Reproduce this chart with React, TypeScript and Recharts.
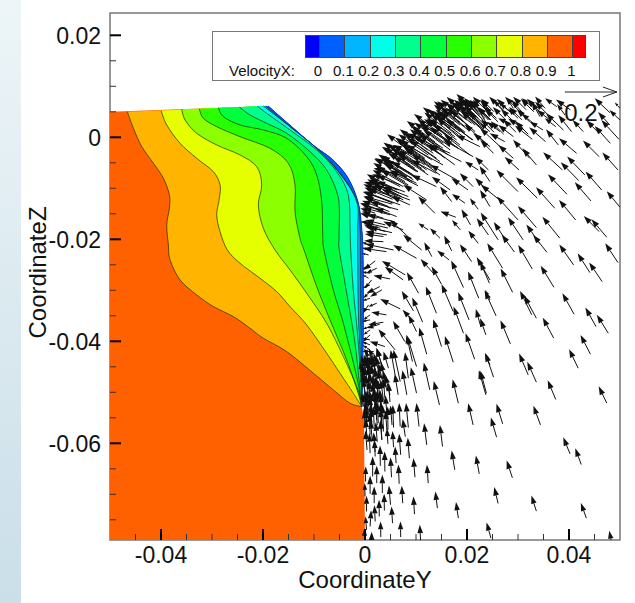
import React from 'react';
import { ScatterChart, Scatter, XAxis, YAxis, ReferenceArea } from 'recharts';

type Pair = [number, number];
type Vec = [number, number, number, number]; // y, z, velocityY, velocityZ

const yDomain: Pair = [-0.05, 0.05];
const zDomain: Pair = [-0.07896, 0.02437];
const yTicks = [-0.045, -0.04, -0.035, -0.03, -0.025, -0.02, -0.015, -0.01, -0.005, 0, 0.005, 0.01, 0.015, 0.02, 0.025, 0.03, 0.035, 0.04, 0.045];
const zTicks = [0.02, 0.015, 0.01, 0.005, 0, -0.005, -0.01, -0.015, -0.02, -0.025, -0.03, -0.035, -0.04, -0.045, -0.05, -0.055, -0.06, -0.065, -0.07, -0.075];
const yMajor = [-0.04, -0.02, 0, 0.02, 0.04];
const zMajor = [0.02, 0, -0.02, -0.04, -0.06];

const legendLevels = ['0', '0.1', '0.2', '0.3', '0.4', '0.5', '0.6', '0.7', '0.8', '0.9', '1'];
const legendColors = ['#0000ff', '#0060ff', '#00b4ff', '#00ffe6', '#00ff8c', '#00ff3c', '#28ff00', '#8cff00', '#e6ff00', '#ffb400', '#ff6000', '#ff0000'];

// the solid boundary, from the top of the slope to the tip of the wedge
const wallEdge: Pair[] = [[-0.019, 0.00613], [-0.01437, 0.00208], [-0.01019, -0.00151], [-0.00627, -0.00445], [-0.00333, -0.00798], [-0.00137, -0.01268], [-0.00065, -0.01778], [-0.00039, -0.02307], [-0.00033, -0.03189], [-0.00039, -0.04169], [-0.00059, -0.05149], [-0.00065, -0.0528]];
const lowerEdge: Pair[] = [[-0.0002, -0.05541], [0, -0.07896], [-0.05, -0.07896]];
const topLeft: Pair = [-0.05, 0.00502];

const contour09: Pair[] = [[-0.04659, 0.00502], [-0.04541, 0.00176], [-0.04377, -0.00184], [-0.04149, -0.0051], [-0.03953, -0.00804], [-0.03836, -0.01131], [-0.03836, -0.01392], [-0.03887, -0.01719], [-0.03855, -0.02111], [-0.03822, -0.02405], [-0.03626, -0.02797], [-0.03299, -0.03091], [-0.02973, -0.0332], [-0.02581, -0.03516], [-0.02254, -0.03744], [-0.01993, -0.0394], [-0.01535, -0.04202], [-0.01013, -0.04626], [-0.00621, -0.04953], [-0.00294, -0.05214], [-0.00065, -0.0528]];
const contour08: Pair[] = [[-0.03998, 0.00521], [-0.03887, 0.00241], [-0.03626, -0.00118], [-0.03299, -0.00412], [-0.02973, -0.00674], [-0.02842, -0.00935], [-0.02856, -0.01196], [-0.02907, -0.01523], [-0.02842, -0.0185], [-0.02699, -0.02209], [-0.0245, -0.0247], [-0.02058, -0.02764], [-0.01731, -0.03026], [-0.0147, -0.0332], [-0.01143, -0.03679], [-0.00751, -0.04234], [-0.0049, -0.04626], [-0.00229, -0.05018], [-0.00065, -0.0528]];
const contour07: Pair[] = [[-0.03593, 0.00549], [-0.03528, 0.00339], [-0.03299, 0.00078], [-0.02907, -0.00151], [-0.0245, -0.00347], [-0.02123, -0.00576], [-0.02025, -0.00935], [-0.02091, -0.01327], [-0.01993, -0.01784], [-0.01764, -0.02209], [-0.0147, -0.02601], [-0.01143, -0.03058], [-0.00751, -0.03646], [-0.00425, -0.043], [-0.00137, -0.04953], [-0.00065, -0.0528]];
const contour06: Pair[] = [[-0.03248, 0.00555], [-0.03169, 0.00372], [-0.02907, 0.00208], [-0.0245, 0.00012], [-0.01862, -0.00216], [-0.01503, -0.0051], [-0.01372, -0.00935], [-0.01372, -0.01458], [-0.01274, -0.0198], [-0.01196, -0.02209], [-0.00947, -0.02928], [-0.00686, -0.03581], [-0.00359, -0.04365], [-0.00137, -0.05012], [-0.00065, -0.0528]];
const contour05: Pair[] = [[-0.02875, 0.0058], [-0.02777, 0.00404], [-0.0245, 0.00241], [-0.01993, 0.00143], [-0.01535, -0.0002], [-0.01143, -0.0038], [-0.00947, -0.00739], [-0.00849, -0.01262], [-0.00829, -0.01915], [-0.00804, -0.02209], [-0.00621, -0.02993], [-0.00425, -0.03646], [-0.00163, -0.04692], [-0.00084, -0.05149], [-0.00065, -0.0528]];
const contour04: Pair[] = [[-0.02464, 0.00594], [-0.02254, 0.00437], [-0.01927, 0.00274], [-0.01535, 0.00078], [-0.01078, -0.00282], [-0.00751, -0.00641], [-0.00555, -0.01066], [-0.00504, -0.01392], [-0.0051, -0.0198], [-0.00504, -0.02209], [-0.00359, -0.03058], [-0.00196, -0.04038], [-0.00084, -0.05084], [-0.00065, -0.0528]];
const contour03: Pair[] = [[-0.02111, 0.00608], [-0.01927, 0.0047], [-0.0147, 0.00143], [-0.00947, -0.00249], [-0.00555, -0.00674], [-0.00327, -0.01131], [-0.00294, -0.01784], [-0.0028, -0.02209], [-0.00229, -0.02993], [-0.00131, -0.04032], [-0.00065, -0.05071], [-0.00065, -0.0528]];
const contour02: Pair[] = [[-0.01993, 0.00613], [-0.0147, 0.00208], [-0.00947, -0.00216], [-0.0049, -0.00706], [-0.00163, -0.01262], [-0.00143, -0.01784], [-0.00143, -0.02209], [-0.00131, -0.03385], [-0.00098, -0.04169], [-0.00059, -0.05071], [-0.00065, -0.0528]];
const contour01: Pair[] = [[-0.0195, 0.00613], [-0.0145, 0.00192], [-0.0098, -0.0019], [-0.00549, -0.00641], [-0.00157, -0.01229], [-0.00098, -0.01778], [-0.00092, -0.02307], [-0.00088, -0.03385], [-0.00069, -0.04365], [-0.00065, -0.0528]];

const farArrows: Vec[] = [
  [0.0293, -0.0225, -0.049, 0.067], [0.02698, -0.02568, -0.059, 0.096], [0.02894, -0.0304, -0.046, 0.092], [0.03279, -0.02581, -0.054, 0.092],
  [0.03567, -0.02255, -0.053, 0.067], [0.03704, -0.0294, -0.051, 0.083], [0.0409, -0.02503, -0.055, 0.079], [0.0441, -0.02653, -0.047, 0.074],
  [0.0465, -0.0283, -0.05, 0.074], [0.0496, -0.02457, -0.049, 0.074], [0.0244, -0.02862, -0.036, 0.083], [0.0257, -0.03502, -0.044, 0.097],
  [0.0327, -0.03482, -0.045, 0.092], [0.0336, -0.03548, -0.047, 0.087], [0.041, -0.0347, -0.045, 0.081], [0.0453, -0.03711, -0.041, 0.073],
  [0.0477, -0.03841, -0.044, 0.071], [0.0285, -0.0405, -0.038, 0.091], [0.037, -0.03939, -0.042, 0.079], [0.0237, -0.03874, -0.022, 0.064],
  [0.0442, -0.04253, -0.038, 0.074], [0.0418, -0.04527, -0.035, 0.073], [0.0252, -0.04703, -0.031, 0.092], [0.032, -0.04658, -0.035, 0.082],
  [0.0336, -0.04801, -0.035, 0.078], [0.0238, -0.05017, -0.023, 0.086], [0.0374, -0.0514, -0.031, 0.074], [0.0474, -0.0521, -0.031, 0.064],
  [0.027, -0.05619, -0.024, 0.077], [0.0344, -0.05639, -0.027, 0.074], [0.0258, -0.0588, -0.022, 0.076], [0.0402, -0.06207, -0.026, 0.064],
  [0.0424, -0.06416, -0.023, 0.063], [0.0289, -0.06677, -0.022, 0.067], [0.0261, -0.0718, -0.015, 0.063], [0.0336, -0.0733, -0.019, 0.06],
  [0.0434, -0.07467, -0.021, 0.058], [0.0247, -0.07859, -0.017, 0.06], [0.0485, -0.0802, -0.012, 0.06],
];

const upperRightArrows: Vec[] = [
  [0.0415, -0.00314, -0.068, 0.058], [0.0459, -0.00379, -0.062, 0.062], [0.0496, -0.0064, -0.06, 0.067], [0.0387, -0.0064, -0.074, 0.068],
  [0.0419, -0.00849, -0.069, 0.071], [0.0431, -0.00738, -0.068, 0.071], [0.0464, -0.01032, -0.062, 0.071], [0.0396, -0.01117, -0.073, 0.077],
  [0.0443, -0.01248, -0.062, 0.072], [0.05, -0.01372, -0.051, 0.062], [0.0372, -0.01391, -0.072, 0.081], [0.0413, -0.0162, -0.064, 0.077],
  [0.0338, -0.01195, -0.082, 0.081], [0.03, -0.01065, -0.083, 0.083], [0.0336, -0.0177, -0.071, 0.083], [0.03, -0.0162, -0.081, 0.09],
  [0.0459, -0.01848, -0.059, 0.06], [0.0474, -0.01959, -0.059, 0.069], [0.0382, -0.01979, -0.067, 0.083], [0.031, -0.02011, -0.058, 0.087],
  [0.0261, -0.02011, -0.067, 0.105], [0.0278, -0.02044, -0.05, 0.075], [0.0342, -0.02077, -0.05, 0.072], [0.0266, -0.01248, -0.076, 0.062],
  [0.0302, -0.0064, -0.055, 0.05], [0.0291, -0.00412, -0.058, 0.051], [0.0336, -0.00542, -0.054, 0.064], [0.0323, -0.00412, -0.064, 0.071],
  [0.0379, -0.0015, -0.047, 0.06], [0.0354, -0.00085, -0.063, 0.055], [0.0328, -0.00039, -0.067, 0.053], [0.0405, 0.00111, -0.051, 0.064],
  [0.0481, -0.00118, -0.06, 0.067], [0.0498, -0.00039, -0.068, 0.074], [0.0459, 0.00078, -0.049, 0.05], [0.05, 0.00339, -0.041, 0.038],
  [0.048, 0.00241, -0.045, 0.05], [0.05, 0.00568, -0.02, 0.022], [0.048, 0.00483, -0.058, 0.055], [0.0428, 0.00111, -0.041, 0.045],
  [0.0403, 0.00535, -0.056, 0.04], [0.0376, 0.006, -0.045, 0.032], [0.0353, 0.00568, -0.038, 0.045], [0.0392, 0.00437, -0.03, 0.042],
  [0.0363, 0.00339, -0.051, 0.038], [0.0343, 0.00405, -0.032, 0.058], [0.0389, 0.00143, -0.067, 0.064], [0.0374, 0.00209, -0.042, 0.032],
  [0.0349, 0.00143, -0.051, 0.032], [0.033, 0.00274, -0.045, 0.038], [0.031, 0.0047, -0.045, 0.051], [0.0291, 0.00568, -0.026, 0.038],
  [0.0327, 0.006, -0.038, 0.032], [0.031, 0.00176, -0.058, 0.038], [0.0287, 0.00241, -0.051, 0.026], [0.0271, 0.00535, -0.038, 0.038],
  [0.0258, 0.00372, -0.051, 0.045], [0.0245, 0.00535, -0.038, 0.038], [0.0284, 0.00502, -0.038, 0.032], [0.03, 0.00372, -0.038, 0.038],
  [0.0265, 0.00111, -0.051, 0.038], [0.0245, 0.00111, -0.038, 0.032], [0.0265, -0.00183, -0.077, 0.071], [0.0274, -0.00085, -0.058, 0.032],
  [0.0291, 0.00013, -0.058, 0.045], [0.0252, -0.00314, -0.051, 0.051], [0.0242, -0.0064, -0.051, 0.05], [0.0245, -0.00869, -0.04, 0.06],
];

// small arrows packed under the top edge, right of the crest
const topRowArrows: Vec[] = [
  [0.0221, 0.005, -0.05, 0.05], [0.0237, 0.0054, -0.05, 0.05], [0.0253, 0.005, -0.05, 0.05], [0.0269, 0.0054, -0.05, 0.05], [0.0284, 0.005, -0.05, 0.05],
  [0.03, 0.0054, -0.05, 0.05], [0.0316, 0.0054, -0.05, 0.05], [0.0331, 0.005, -0.05, 0.05], [0.0247, 0.0034, -0.05, 0.05], [0.0261, 0.003, -0.05, 0.05],
  [0.0276, 0.0034, -0.05, 0.05], [0.0292, 0.003, -0.05, 0.05], [0.0308, 0.0034, -0.05, 0.05], [0.0323, 0.003, -0.05, 0.05], [0.0229, 0.0024, -0.05, 0.05],
  [0.0253, 0.001, -0.05, 0.05], [0.0272, 0.0006, -0.05, 0.05], [0.0296, 0.001, -0.05, 0.05], [0.032, 0.0006, -0.05, 0.05], [0.0343, 0.005, -0.05, 0.05],
  [0.0359, 0.0044, -0.05, 0.05],
];

const crownArrows: Vec[] = [
  [0.0222, -0.0208, -0.038, 0.049], [0.0207, -0.01718, -0.035, 0.06], [0.0222, -0.01411, -0.032, 0.042], [0.0187, -0.01816, -0.032, 0.038],
  [0.0147, -0.01979, -0.038, 0.038], [0.0178, -0.01567, -0.059, 0.022], [0.0196, -0.01293, -0.05, 0.036], [0.017, -0.01261, -0.045, 0.058],
  [0.0137, -0.01489, -0.064, 0.064], [0.0091, -0.0201, -0.083, 0.077], [0.0124, -0.01816, -0.038, 0.026], [0.0088, -0.01326, -0.071, 0.032],
  [0.0085, -0.01163, -0.096, 0.038], [0.0069, -0.01326, -0.138, 0.051], [0.0066, -0.01032, -0.115, 0.038], [0.004, -0.01848, -0.064, 0.019],
  [0.0043, -0.01914, -0.083, 0.013], [0.004, -0.01718, -0.077, 0.019], [0.0036, -0.01587, -0.083, 0.026], [0.0029, -0.01424, -0.074, 0.026],
  [0.0062, -0.01554, -0.083, 0.032], [0.0075, -0.01816, -0.077, 0.032], [0.0101, -0.00901, -0.103, 0.051], [0.0121, -0.0123, -0.09, 0.058],
  [0.0082, -0.00771, -0.128, 0.032], [0.0088, -0.00869, -0.109, 0.09], [0.0101, -0.00673, -0.09, 0.058], [0.0117, -0.00477, -0.122, 0.064],
  [0.014, -0.00706, -0.096, 0.051], [0.0153, -0.00542, -0.141, 0.077], [0.018, -0.00836, -0.103, 0.058], [0.0202, -0.01032, -0.064, 0.045],
  [0.0212, -0.00967, -0.051, 0.051], [0.0167, -0.01032, -0.071, 0.051], [0.014, -0.00967, -0.096, 0.045], [0.0167, -0.00314, -0.167, 0.077],
  [0.0189, -0.00477, -0.122, 0.064], [0.0183, -0.00216, -0.147, 0.096], [0.0212, -0.00379, -0.115, 0.064], [0.0222, -0.0064, -0.051, 0.032],
  [0.0242, -0.0106, -0.051, 0.051], [0.0245, -0.01359, -0.038, 0.064], [0.0242, -0.01914, -0.045, 0.064], [0.0212, -0.00052, -0.154, 0.109],
  [0.0225, -0.00183, -0.09, 0.045], [0.0206, 0.00176, -0.09, 0.096], [0.0232, 0.00143, -0.077, 0.115], [0.0245, -0.00183, -0.064, 0.051],
  [0.0238, 0.00274, -0.051, 0.092], [0.0245, 0.0047, -0.032, 0.051], [0.0229, 0.0047, -0.058, 0.045], [0.0216, 0.00372, -0.096, 0.064],
  [0.0043, -0.01489, -0.103, 0.038], [0.0049, -0.01261, -0.105, 0.038], [0.0046, -0.01359, -0.09, 0.038], [0.0062, -0.0113, -0.113, 0.06],
  [0.0056, -0.01195, -0.092, 0.051], [0.0075, -0.00967, -0.118, 0.064], [0.0069, -0.00967, -0.09, 0.045], [0.0095, -0.00836, -0.122, 0.083],
  [0.0092, -0.00869, -0.103, 0.071], [0.0104, -0.00673, -0.115, 0.071], [0.0117, -0.00542, -0.122, 0.077], [0.0121, -0.0064, -0.109, 0.077],
  [0.0131, -0.00444, -0.122, 0.077], [0.0144, -0.00314, -0.122, 0.077], [0.0147, -0.00477, -0.115, 0.083], [0.0153, -0.00216, -0.115, 0.077],
  [0.0167, -0.00118, -0.115, 0.077], [0.0167, -0.00248, -0.103, 0.077], [0.0176, 0.00013, -0.109, 0.071], [0.0186, 0.00111, -0.103, 0.077],
  [0.019, -0.00052, -0.096, 0.083], [0.0196, 0.00209, -0.096, 0.077], [0.0209, 0.00274, -0.096, 0.077], [0.0216, 0.00111, -0.096, 0.083],
  [0.0222, 0.00307, -0.083, 0.081], [0.0232, 0.00339, -0.077, 0.077], [0.0242, 0.00339, -0.071, 0.077], [0.0229, 0.00176, -0.083, 0.071],
  [0.0238, 0.00176, -0.077, 0.071], [0.0023, -0.01587, -0.064, 0.019], [0.0036, -0.01946, -0.071, 0.01], [0.003, -0.01783, -0.064, 0.013],
  [0.0016, -0.01685, -0.049, 0.006], [0.002, -0.01489, -0.058, 0.019],
];

// the thick black rim along the top of the arrow field
const crownRimArrows: Vec[] = [
  [0.00522, -0.0115, -0.109, 0.045], [0.00542, -0.01215, -0.109, 0.045], [0.00555, -0.01293, -0.109, 0.045], [0.00503, -0.01391, -0.105, 0.045], [0.00477, -0.01456, -0.105, 0.042],
  [0.0062, -0.01032, -0.115, 0.06], [0.00672, -0.01097, -0.115, 0.06], [0.00718, -0.01163, -0.115, 0.058], [0.00751, -0.01228, -0.112, 0.058],
  [0.00783, -0.00869, -0.122, 0.072], [0.00849, -0.00934, -0.122, 0.072], [0.00914, -0.01, -0.118, 0.07], [0.00816, -0.00771, -0.122, 0.072], [0.00881, -0.00706, -0.122, 0.072], [0.00947, -0.00738, -0.122, 0.074], [0.01012, -0.00803, -0.12, 0.072],
  [0.00979, -0.00608, -0.118, 0.08], [0.01045, -0.00542, -0.118, 0.08], [0.0111, -0.00608, -0.118, 0.08], [0.01175, -0.00673, -0.115, 0.08], [0.01241, -0.00738, -0.115, 0.078], [0.00947, -0.0051, -0.115, 0.08],
  [0.01175, -0.00412, -0.115, 0.08], [0.01241, -0.00347, -0.115, 0.08], [0.01306, -0.00542, -0.115, 0.08], [0.01371, -0.00608, -0.112, 0.078], [0.01404, -0.00412, -0.115, 0.08], [0.01339, -0.00314, -0.115, 0.08],
  [0.01469, -0.00183, -0.112, 0.08], [0.01534, -0.00118, -0.112, 0.08], [0.01567, -0.00281, -0.112, 0.08], [0.01632, -0.00346, -0.11, 0.08], [0.01665, -0.00183, -0.112, 0.08], [0.016, -0.00053, -0.112, 0.08], [0.01502, -0.00346, -0.11, 0.078],
  [0.01698, 0.00078, -0.105, 0.08], [0.01763, 0.00143, -0.105, 0.08], [0.01796, -0.00053, -0.105, 0.08], [0.01861, -0.00151, -0.102, 0.08], [0.01926, 0.00013, -0.105, 0.08], [0.0173, -0.00053, -0.105, 0.078], [0.01828, 0.00045, -0.105, 0.08],
  [0.01861, 0.00241, -0.1, 0.078], [0.01926, 0.00307, -0.1, 0.078], [0.01992, 0.00339, -0.1, 0.078], [0.02024, 0.00143, -0.1, 0.078], [0.01959, 0.00078, -0.1, 0.078], [0.0209, 0.00176, -0.098, 0.078], [0.01894, 0.00143, -0.1, 0.078],
  [0.02155, 0.00339, -0.08, 0.078], [0.0222, 0.00372, -0.08, 0.078], [0.02285, 0.00372, -0.08, 0.078], [0.02351, 0.00372, -0.08, 0.078], [0.02155, 0.00241, -0.082, 0.078], [0.02253, 0.00241, -0.08, 0.078], [0.02351, 0.00241, -0.08, 0.076], [0.02449, 0.00339, -0.076, 0.076],
];

// second layer under the rim, and the fan that leans on the shoulder of the wall
const crownInnerArrows: Vec[] = [
  [0.0053, -0.0103, -0.108, 0.03], [0.0061, -0.0117, -0.108, 0.03], [0.0053, -0.0131, -0.108, 0.03], [0.0065, -0.0142, -0.108, 0.03], [0.0049, -0.0152, -0.104, 0.028],
  [0.0059, -0.0166, -0.108, 0.028], [0.0045, -0.0178, -0.1, 0.024], [0.0053, -0.0187, -0.104, 0.024], [0.0069, -0.0093, -0.108, 0.04], [0.0078, -0.0107, -0.108, 0.04],
  [0.0088, -0.0123, -0.108, 0.04], [0.0073, -0.0068, -0.108, 0.05], [0.0092, -0.008, -0.108, 0.055], [0.0104, -0.0095, -0.108, 0.055],
  [0.0088, -0.0054, -0.108, 0.07], [0.0104, -0.0068, -0.108, 0.08], [0.0118, -0.0044, -0.108, 0.08], [0.0131, -0.006, -0.108, 0.08], [0.0143, -0.0025, -0.108, 0.08],
  [0.0157, -0.0041, -0.108, 0.08], [0.0171, -0.0005, -0.108, 0.08], [0.0182, -0.0021, -0.108, 0.08], [0.0196, 0.001, -0.1, 0.08], [0.021, -0.0005, -0.1, 0.08],
  [0.0221, 0.0024, -0.09, 0.08], [0.0235, 0.001, -0.09, 0.08], [0.0108, -0.0083, -0.108, 0.07], [0.0147, -0.0074, -0.108, 0.08], [0.0176, -0.0054, -0.108, 0.08],
  [0.0206, -0.0035, -0.1, 0.08], [0.0241, -0.0015, -0.09, 0.08], [0.0123, -0.0025, -0.108, 0.08], [0.0098, -0.0035, -0.108, 0.08], [0.0151, 0.0005, -0.108, 0.08],
  [0.0186, 0.003, -0.1, 0.08], [0.0167, 0.0018, -0.105, 0.08], [0.0206, 0.0038, -0.09, 0.08], [0.0225, 0.0044, -0.09, 0.08], [0.0137, -0.0009, -0.108, 0.08],
];

const middleArrows: Vec[] = [
  [0.0036, -0.02046, -0.074, 0.003], [0.0056, -0.02209, -0.109, 0.023], [0.0042, -0.02242, -0.09, 0.013], [0.002, -0.02424, -0.045, -0.035],
  [0.0023, -0.02568, -0.041, -0.019], [0.0049, -0.02777, -0.064, 0.013], [0.0029, -0.02927, -0.051, -0.026], [0.0033, -0.02992, -0.045, -0.026],
  [0.0023, -0.03254, -0.032, -0.013], [0.0042, -0.03482, -0.058, 0.01], [0.0036, -0.03626, -0.058, -0.01], [0.0029, -0.03665, -0.051, -0.015],
  [0.0039, -0.04103, -0.058, 0.019], [0.0079, -0.02699, -0.09, 0.054], [0.0075, -0.02797, -0.071, 0.051], [0.0101, -0.02372, -0.09, 0.051],
  [0.0111, -0.02209, -0.071, 0.058], [0.0069, -0.03365, -0.077, 0.038], [0.0105, -0.03058, -0.045, 0.081], [0.0095, -0.03404, -0.045, 0.077],
  [0.0113, -0.03626, -0.04, 0.095], [0.0078, -0.04005, -0.045, 0.079], [0.0095, -0.03613, -0.042, 0.045], [0.0101, -0.03809, -0.031, 0.064],
  [0.0059, -0.04168, -0.064, 0.079], [0.0121, -0.04253, -0.029, 0.103], [0.0101, -0.04495, -0.036, 0.118], [0.0093, -0.04397, -0.023, 0.103],
  [0.014, -0.0345, -0.041, 0.103], [0.0134, -0.02666, -0.049, 0.055], [0.015, -0.02881, -0.038, 0.068], [0.0165, -0.02405, -0.046, 0.036],
  [0.0131, -0.02339, -0.029, 0.055], [0.017, -0.02228, -0.029, 0.059], [0.0193, -0.02947, -0.047, 0.104], [0.0223, -0.03156, -0.041, 0.103],
  [0.0209, -0.02437, -0.045, 0.067], [0.0245, -0.02797, -0.051, 0.087], [0.0204, -0.0358, -0.042, 0.106], [0.0173, -0.03417, -0.045, 0.105],
  [0.0193, -0.03841, -0.038, 0.103], [0.0227, -0.03711, -0.019, 0.068], [0.015, -0.04103, -0.032, 0.105], [0.0173, -0.0441, -0.032, 0.101],
  [0.0215, -0.04351, -0.035, 0.1], [0.0245, -0.03188, -0.019, 0.038], [0.0245, -0.04462, -0.019, 0.045], [0.0237, -0.05049, -0.027, 0.094],
  [0.0183, -0.05214, -0.022, 0.092], [0.0146, -0.05247, -0.022, 0.092], [0.0127, -0.04952, -0.023, 0.105], [0.0101, -0.05017, -0.022, 0.1],
  [0.0085, -0.04723, -0.013, 0.1], [0.0069, -0.04788, -0.026, 0.122], [0.0059, -0.04658, -0.017, 0.096], [0.0082, -0.05049, -0.017, 0.094],
  [0.0049, -0.05049, -0.019, 0.077], [0.0065, -0.05049, -0.013, 0.081], [0.0036, -0.0456, -0.026, 0.083], [0.0046, -0.04527, -0.019, 0.064],
  [0.002, -0.04396, -0.026, 0.051], [0.001, -0.04527, -0.023, 0.051], [0.0026, -0.04723, -0.026, 0.077], [0.0003, -0.04788, -0.019, 0.051],
  [0.0017, -0.04886, -0.026, 0.077], [0.0036, -0.04854, -0.019, 0.083], [0.001, -0.04984, -0.026, 0.064], [0.0013, -0.02797, -0.026, -0.032],
  [0.001, -0.03025, -0.026, -0.026], [0.001, -0.03482, -0.026, -0.019], [0.001, -0.03874, -0.028, -0.026], [0.0017, -0.04201, -0.045, 0],
  [0.0007, -0.02307, -0.026, 0.006], [0.001, -0.02111, -0.032, 0.01], [0.0007, -0.02764, -0.022, 0.013], [0.0007, -0.03286, -0.022, -0.032],
  [0.001, -0.03776, -0.026, -0.019],
];

// short arrows pressed against the wall
const wallArrows: Vec[] = [
  [0.00098, -0.02209, -0.03, 0.008], [0.00098, -0.02535, -0.03, -0.008], [0.00098, -0.02666, -0.03, 0.005], [0.00098, -0.02895, -0.028, -0.012],
  [0.00098, -0.03156, -0.028, -0.01], [0.00098, -0.03384, -0.03, 0.004], [0.00098, -0.0358, -0.03, -0.006], [0.00098, -0.03711, -0.028, -0.01],
  [0.00098, -0.03972, -0.03, 0.006], [0.00098, -0.0407, -0.03, 0.012], [0.00098, -0.04168, -0.028, 0.018], [0.00098, -0.04299, -0.024, 0.03],
  [0.00098, -0.04396, -0.02, 0.04],
];

// the solid black knot just under the tip of the wedge
const knotArrows: Vec[] = [
  [0, -0.04788, -0.015, 0.07], [0.00065, -0.04854, -0.015, 0.07], [0.0013, -0.04788, -0.015, 0.07], [0.00196, -0.04821, -0.015, 0.07], [0.00261, -0.04886, -0.015, 0.07],
  [0.00326, -0.04919, -0.015, 0.07], [0, -0.04984, -0.012, 0.07], [0.00065, -0.05017, -0.012, 0.07], [0.0013, -0.04984, -0.012, 0.07], [0.00196, -0.05017, -0.012, 0.07],
  [0.00261, -0.05049, -0.012, 0.07], [-0.00033, -0.0469, -0.015, 0.06], [0.00033, -0.04658, -0.015, 0.065], [0.00098, -0.0469, -0.015, 0.065], [0.00163, -0.04658, -0.016, 0.07],
  [0.00228, -0.0469, -0.016, 0.07], [0.00294, -0.04658, -0.016, 0.072], [0.00392, -0.04788, -0.016, 0.075], [0.00424, -0.04951, -0.014, 0.075], [0, -0.04527, -0.016, 0.05],
  [0.00065, -0.0456, -0.018, 0.055], [0.0013, -0.04593, -0.018, 0.06], [0.00196, -0.0456, -0.018, 0.062], [0.00261, -0.0456, -0.018, 0.064], [0.00326, -0.04462, -0.02, 0.066],
  [0, -0.0541, -0.005, 0.075], [0.00065, -0.05443, -0.005, 0.075], [0.0013, -0.05377, -0.005, 0.075], [0.00196, -0.05312, -0.005, 0.075], [0.00261, -0.05345, -0.005, 0.075],
  [0.00326, -0.0541, -0.005, 0.075], [0.00033, -0.05573, -0.004, 0.075], [0.0013, -0.05606, -0.004, 0.075], [0.00228, -0.05541, -0.004, 0.075], [0.00326, -0.05573, -0.004, 0.075],
  [0, -0.05704, -0.003, 0.07], [0.0004, -0.0535, -0.006, 0.075], [0.0014, -0.0539, -0.006, 0.075], [0.0024, -0.0535, -0.006, 0.075], [0.0033, -0.0539, -0.006, 0.075],
  [0.0043, -0.0544, -0.006, 0.075], [0.0004, -0.0564, -0.006, 0.075], [0.0014, -0.057, -0.006, 0.075], [0.0024, -0.0564, -0.006, 0.075], [0.0033, -0.057, -0.006, 0.075],
  [0.0043, -0.0574, -0.006, 0.075], [0.0053, -0.0564, -0.006, 0.075], [0.0004, -0.059, -0.006, 0.075], [0.0014, -0.0593, -0.006, 0.075], [0.0024, -0.0597, -0.006, 0.075],
  [0.0033, -0.0593, -0.006, 0.075], [0.0004, -0.0613, -0.006, 0.075], [0.002, -0.0617, -0.006, 0.075], [0, -0.0511, -0.006, 0.075], [0.001, -0.0515, -0.006, 0.075],
  [0.002, -0.0511, -0.006, 0.075], [0.0029, -0.0515, -0.006, 0.075], [0.0039, -0.0511, -0.006, 0.075], [0.0049, -0.0519, -0.006, 0.075],
];

const lowerArrows: Vec[] = [
  [-0.0001, -0.0796, 0, 0.058], [0.0013, -0.0809, 0, 0.07], [0.0031, -0.07839, -0.001, 0.06], [0.007, -0.07839, -0.001, 0.06],
  [0.0109, -0.07924, -0.003, 0.064], [0.0003, -0.07696, -0.004, 0.051], [0.001, -0.0763, 0.004, 0.062], [0.002, -0.07532, -0.003, 0.062],
  [0.0028, -0.07434, -0.001, 0.064], [0.0038, -0.07317, -0.001, 0.064], [0.005, -0.07206, -0.006, 0.074], [0.0054, -0.07565, -0.004, 0.064],
  [0.0003, -0.07336, 0, 0.06], [0.0018, -0.07173, 0, 0.064], [0.001, -0.0699, 0, 0.069], [0, -0.07043, -0.001, 0.051],
  [0.0034, -0.06977, 0, 0.071], [0.0074, -0.07173, -0.004, 0.067], [0.0097, -0.07389, -0.004, 0.068], [0.0142, -0.07271, -0.008, 0.064],
  [0.0183, -0.07467, -0.009, 0.062], [0.0001, -0.06749, 0.001, 0.058], [0.0023, -0.06781, 0, 0.067], [0.0067, -0.06794, -0.003, 0.074],
  [0.0052, -0.06664, -0.004, 0.076], [0.0098, -0.06664, -0.006, 0.073], [0.0124, -0.06781, -0.005, 0.071], [0.0039, -0.06553, -0.001, 0.077],
  [0.0015, -0.06651, 0, 0.077], [0.0176, -0.0652, -0.012, 0.074], [0.0224, -0.06599, -0.013, 0.071], [0.003, -0.06442, -0.001, 0.078],
  [0.0061, -0.0639, -0.004, 0.064], [0.0087, -0.06292, -0.006, 0.079], [0.007, -0.06226, -0.006, 0.081], [0.0056, -0.06076, -0.004, 0.062],
  [0.0045, -0.06011, -0.004, 0.06], [0.002, -0.06259, -0.003, 0.064], [0.001, -0.06194, -0.003, 0.077], [0.0033, -0.05933, -0.004, 0.077],
  [0.0121, -0.06031, -0.01, 0.083], [0.0152, -0.06063, -0.01, 0.083], [0.0085, -0.05691, -0.009, 0.094], [0.0079, -0.05867, -0.01, 0.067],
  [0.0106, -0.05671, -0.01, 0.09], [0.0212, -0.05639, -0.019, 0.083], [0.0069, -0.05671, -0.004, 0.09], [0.0056, -0.05691, -0.003, 0.087],
  [0.0045, -0.05737, -0.001, 0.09], [0.0036, -0.05769, -0.003, 0.103], [0.001, -0.05835, -0.003, 0.083], [0.0003, -0.05671, 0, 0.064],
  [0.0018, -0.05671, -0.003, 0.077], [0.0026, -0.05606, -0.003, 0.077], [0, -0.05541, 0, 0.051], [0.0011, -0.05475, -0.003, 0.077],
  [0.0022, -0.0541, -0.003, 0.077], [0.0031, -0.05345, -0.003, 0.077], [0.0007, -0.0528, -0.006, 0.064], [0.0017, -0.05182, -0.006, 0.071],
  [0.0026, -0.05149, -0.006, 0.077], [0.0036, -0.05149, -0.01, 0.077], [-0.0003, -0.0528, -0.006, 0.051],
];

const referenceVector: Vec[] = [[0.0392, 0.00888, 0.2, 0]];

const contours = [contour09, contour08, contour07, contour06, contour05, contour04, contour03, contour02, contour01];
const bandColors = ['#ffb400', '#e6ff00', '#8cff00', '#28ff00', '#00ff3c', '#00ff8c', '#00ffe6', '#00b4ff', '#0060ff'];
const arrowGroups = [farArrows, upperRightArrows, topRowArrows, crownArrows, crownRimArrows, crownInnerArrows, middleArrows, wallArrows, knotArrows, lowerArrows];

const PX_PER_VELOCITY = 260;
const FONT = '"Liberation Sans", Arial, sans-serif';

const toPoints = (rows: Pair[]) => rows.map(([y, z]) => ({ y, z }));
const toVectors = (rows: Vec[]) => rows.map(([y, z, u, v]) => ({ y, z, u, v }));
const bandEdge = (line: Pair[]) => toPoints([...line, ...[...wallEdge].reverse(), line[0]]);
const nothing = () => <g />;

// Catmull-Rom through one run of points, so the contours read as curves
function smoothRun(pts: { x: number; y: number }[]) {
  let d = '';
  for (let i = 0; i < pts.length - 1; i++) {
    const a = pts[Math.max(i - 1, 0)];
    const b = pts[i];
    const c = pts[i + 1];
    const e = pts[Math.min(i + 2, pts.length - 1)];
    d += `C${b.x + (c.x - a.x) / 6},${b.y + (c.y - a.y) / 6} ${c.x - (e.x - b.x) / 6},${c.y - (e.y - b.y) / 6} ${c.x},${c.y}`;
  }
  return d;
}

function EdgePath(props: any) {
  const { points, breaks = [], tone = 'none', edge = 'none', edgeWidth = 0 } = props;
  const starts = [0, ...breaks, points.length];
  let d = '';
  for (let i = 0; i < starts.length - 1; i++) {
    const run = points.slice(starts[i], starts[i + 1]);
    if (!run.length) continue;
    d += `${i === 0 ? 'M' : 'L'}${run[0].x},${run[0].y}` + smoothRun(run);
  }
  return <path d={d} fill={tone} stroke={edge} strokeWidth={edgeWidth} />;
}

function Arrow(props: any) {
  const { cx, cy, payload } = props;
  const dx = payload.u * PX_PER_VELOCITY;
  const dy = -payload.v * PX_PER_VELOCITY;
  const len = Math.hypot(dx, dy) || 1;
  const ux = dx / len;
  const uy = dy / len;
  const tipX = cx + dx;
  const tipY = cy + dy;
  const headLen = Math.min(8.5, len * 0.5);
  const headHalf = headLen * 0.34;
  const bx = tipX - ux * headLen;
  const by = tipY - uy * headLen;
  return (
    <g>
      <line x1={cx} y1={cy} x2={bx} y2={by} stroke="#111" strokeWidth={1} />
      <polygon
        points={`${tipX},${tipY} ${bx - uy * headHalf},${by + ux * headHalf} ${bx + uy * headHalf},${by - ux * headHalf}`}
        fill="#111"
      />
    </g>
  );
}

function RefArrow(props: any) {
  const { cx, cy, payload } = props;
  const tipX = cx + payload.u * PX_PER_VELOCITY;
  return (
    <g>
      <path d={`M${cx},${cy} L${tipX},${cy} M${tipX - 14},${cy - 5} L${tipX},${cy} L${tipX - 14},${cy + 5}`} fill="none" stroke="#222" strokeWidth={1} />
      <text x={cx + 16} y={cy + 29} textAnchor="middle" fontFamily={FONT} fontSize={24} fill="#111">0.2</text>
    </g>
  );
}

function YTickLabel(props: any) {
  const { x, y, payload } = props;
  if (!yMajor.includes(payload.value)) return <g />;
  return <text x={x} y={y + 23} textAnchor="middle" fontFamily={FONT} fontSize={23} fill="#111">{payload.value}</text>;
}

function ZTickLabel(props: any) {
  const { x, y, payload } = props;
  if (!zMajor.includes(payload.value)) return <g />;
  return <text x={x - 9} y={y + 9} textAnchor="end" fontFamily={FONT} fontSize={23} fill="#111">{payload.value}</text>;
}

// tick marks go inward, over the filled contours, so they are series and not axis ticks
function YTickMark(props: any) {
  const { cx, cy, payload } = props;
  const major = yMajor.includes(payload.y);
  return <line x1={cx} y1={cy} x2={cx} y2={cy - (major ? 11 : 6)} stroke={major ? '#000' : '#333'} strokeWidth={major ? 2 : 1} />;
}

function ZTickMark(props: any) {
  const { cx, cy, payload } = props;
  const major = zMajor.includes(payload.z);
  return <line x1={cx} y1={cy} x2={cx + (major ? 11 : 6)} y2={cy} stroke={major ? '#000' : '#333'} strokeWidth={major ? 2 : 1} />;
}

function ZTitle(props: any) {
  const { viewBox } = props;
  const cy = viewBox.y + viewBox.height / 2 - 4;
  return (
    <text x={46} y={cy} transform={`rotate(-90 46 ${cy})`} textAnchor="middle" fontFamily={FONT} fontSize={24} fill="#111">CoordinateZ</text>
  );
}

function LegendBox() {
  return (
    <div style={{ position: 'absolute', left: 212, top: 31, width: 386, height: 48, border: '1.5px solid #777', background: '#fff', fontFamily: FONT, fontSize: 15, color: '#111' }}>
      <div style={{ position: 'absolute', left: 92, top: 3, display: 'flex', height: 23, border: '1px solid #444', boxSizing: 'border-box' }}>
        {legendColors.map((color, i) => (
          <div key={color} style={{ width: i === 0 || i === legendColors.length - 1 ? 13 : 25.35, background: color, borderLeft: i ? '1px solid #444' : 'none', boxSizing: 'border-box' }} />
        ))}
      </div>
      <div style={{ position: 'absolute', left: 16, top: 30 }}>VelocityX:</div>
      {legendLevels.map((level, i) => (
        <div key={level} style={{ position: 'absolute', left: 105 + i * 25.35 - 20, width: 40, top: 30, textAlign: 'center' }}>{level}</div>
      ))}
    </div>
  );
}

export default function App() {
  const domainEdge = [topLeft, ...wallEdge, ...lowerEdge];
  const wallEnd = 1 + wallEdge.length;
  return (
    <div style={{ position: 'fixed', left: 0, top: 0, width: 635, height: 603, background: '#fff', overflow: 'hidden' }}>
      <div style={{ position: 'absolute', left: 0, top: 0, width: 21, height: 603, background: 'linear-gradient(#edf5f8, #cadfe7)' }} />
      <ScatterChart
        width={635}
        height={603}
        margin={{ top: 13, right: 15, bottom: 0, left: 0 }}
        style={{ position: 'absolute', left: 0, top: 0 }}
      >
        <XAxis
          type="number"
          dataKey="y"
          domain={yDomain}
          ticks={yTicks}
          interval={0}
          height={63}
          tickSize={0}
          tickMargin={0}
          axisLine={false}
          allowDataOverflow
          tick={<YTickLabel />}
          label={{ value: 'CoordinateY', position: 'insideBottom', offset: 15, fontFamily: FONT, fontSize: 24, fill: '#111' }}
        />
        <YAxis
          type="number"
          dataKey="z"
          domain={zDomain}
          ticks={zTicks}
          interval={0}
          width={110}
          tickSize={0}
          tickMargin={0}
          axisLine={false}
          allowDataOverflow
          tick={<ZTickLabel />}
          label={{ content: <ZTitle /> }}
        />
        <Scatter
          data={toPoints(domainEdge)}
          shape={nothing}
          line={<EdgePath tone="#ff6000" breaks={[1, wallEnd, wallEnd + 1, wallEnd + 2]} />}
          isAnimationActive={false}
        />
        {contours.map((line, i) => (
          <Scatter
            key={bandColors[i]}
            data={bandEdge(line)}
            shape={nothing}
            line={<EdgePath tone={bandColors[i]} breaks={[line.length, line.length + wallEdge.length]} />}
            isAnimationActive={false}
          />
        ))}
        {contours.map((line, i) => (
          <Scatter key={`line-${i}`} data={toPoints(line)} shape={nothing} line={<EdgePath edge="#1c2a10" edgeWidth={0.7} />} isAnimationActive={false} />
        ))}
        <Scatter data={toPoints(wallEdge)} shape={nothing} line={<EdgePath edge="#0030e0" edgeWidth={1} />} isAnimationActive={false} />
        {arrowGroups.map((rows, i) => (
          <Scatter key={`arrows-${i}`} data={toVectors(rows)} shape={<Arrow />} isAnimationActive={false} />
        ))}
        <Scatter data={toVectors(referenceVector)} shape={<RefArrow />} isAnimationActive={false} />
        <Scatter data={yTicks.map((y) => ({ y, z: zDomain[0] }))} shape={<YTickMark />} isAnimationActive={false} />
        <Scatter data={zTicks.map((z) => ({ y: yDomain[0], z }))} shape={<ZTickMark />} isAnimationActive={false} />
        <ReferenceArea x1={yDomain[0]} x2={yDomain[1]} y1={zDomain[0]} y2={zDomain[1]} fill="none" stroke="#777" strokeWidth={1.5} />
      </ScatterChart>
      <LegendBox />
    </div>
  );
}
